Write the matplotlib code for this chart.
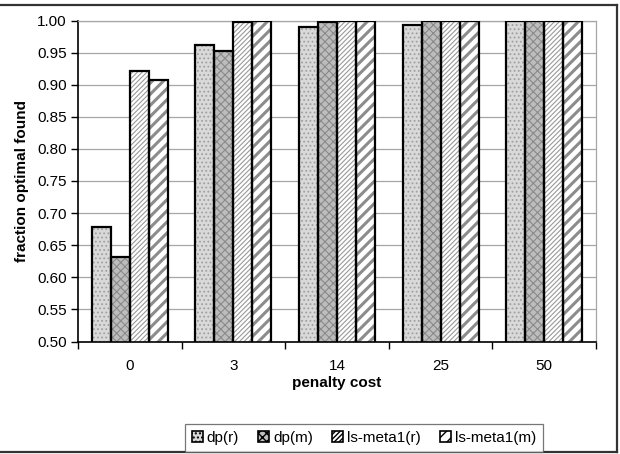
import numpy as np
import matplotlib
matplotlib.use("Agg")
import matplotlib.pyplot as plt
from matplotlib.lines import Line2D
from matplotlib.patches import Patch

plt.rcParams['font.family'] = ['Liberation Sans', 'DejaVu Sans']

categories = ["0", "3", "14", "25", "50"]
series_names = ["dp(r)", "dp(m)", "ls-meta1(r)", "ls-meta1(m)"]
dp_r = [0.679, 0.962, 0.990, 0.993, 1.000]
dp_m = [0.631, 0.953, 0.997, 1.000, 1.000]
ls_r = [0.921, 0.997, 1.000, 1.000, 1.000]
ls_m = [0.908, 1.000, 1.000, 1.000, 1.000]

# face colour, hatch, hatch colour, hatch line width
styles = [
    ("#d9d9d9", "....", "#a0a0a0", 0.8),
    ("#bdbdbd", "xxxx", "#8a8a8a", 0.8),
    ("white", "///////", "#9a9a9a", 0.8),
    ("white", "///", "#8c8c8c", 2.2),
]

fig = plt.figure(figsize=(6.2, 4.54), dpi=100)
ax = fig.add_axes([78 / 620, 1 - 341.5 / 454, 518 / 620, 321 / 454])

x = np.arange(len(categories))
w = 0.183
handles = []
for i, vals in enumerate([dp_r, dp_m, ls_r, ls_m]):
    fc, hatch, hc, hlw = styles[i]
    plt.rcParams['hatch.linewidth'] = hlw
    pos = x + (i - 1.5) * w
    ax.bar(pos, vals, w, bottom=0, color=fc, edgecolor=hc, hatch=hatch,
           linewidth=0, zorder=2)
    ax.bar(pos, vals, w, bottom=0, fill=False, edgecolor="black",
           linewidth=1.6, zorder=3)
    handles.append(Patch(facecolor=fc, edgecolor="black", hatch=hatch,
                         linewidth=1.2))
plt.rcParams['hatch.linewidth'] = 1.0

ax.set_xlim(-0.5, len(categories) - 0.5)
ax.set_ylim(0.5, 1.0)
ax.set_yticks(np.arange(0.5, 1.001, 0.05))
ax.set_yticklabels([f"{v:.2f}" for v in np.arange(0.5, 1.001, 0.05)])
ax.yaxis.grid(True, color="#a6a6a6", linewidth=0.9, zorder=0)
ax.set_axisbelow(True)

ax.set_xticks(x)
ax.set_xticklabels(categories)
ax.set_xticks(np.arange(-0.5, len(categories)), minor=True)
ax.tick_params(axis="x", which="major", length=0, pad=12.5, labelsize=11)
ax.tick_params(axis="x", which="minor", length=5, width=1, direction="out")
ax.tick_params(axis="y", length=5, width=1, direction="out", labelsize=11, pad=3)

for s in ["top", "right"]:
    ax.spines[s].set_color("#a6a6a6")
    ax.spines[s].set_linewidth(0.9)
for s in ["left", "bottom"]:
    ax.spines[s].set_color("black")
    ax.spines[s].set_linewidth(1.2)

ax.set_xlabel("penalty cost", fontweight="bold", fontsize=11, labelpad=2)
ax.set_ylabel("fraction optimal found", fontweight="bold", fontsize=11, labelpad=6)

leg = fig.legend(handles, series_names, loc="lower left", ncol=4,
                 bbox_to_anchor=(185 / 620, 2 / 454, 358 / 620, 32 / 454),
                 mode="expand", frameon=True, fancybox=False, fontsize=11,
                 handlelength=0.7, handleheight=0.7, handletextpad=0.25,
                 columnspacing=1.0, borderaxespad=0, borderpad=0.45)
leg.get_frame().set_edgecolor("#555555")
leg.get_frame().set_linewidth(0.9)

# outer chart border (top, right, bottom visible in reference)
fig.add_artist(Line2D([0, 617 / 620], [1 - 5 / 454] * 2, color="#333333", lw=1.6))
fig.add_artist(Line2D([617 / 620] * 2, [1 - 5 / 454, 1 - 452 / 454], color="#333333", lw=1.6))
fig.add_artist(Line2D([0, 617 / 620], [1 - 452 / 454] * 2, color="#333333", lw=1.6))

fig.savefig("out.png", dpi=100)
